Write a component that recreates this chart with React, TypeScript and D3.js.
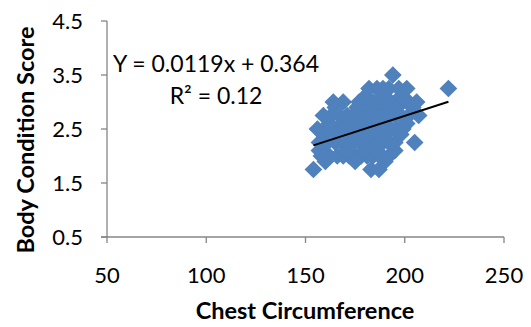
import React from "react";
import * as d3 from "d3";

// Chest circumference (cm) per animal
const chest: number[] = [
  154, 183, 187,
  160, 175, 190,
  158, 162, 166, 169, 172, 175, 178, 181, 184, 188, 192,
  157, 171, 180, 186, 195,
  157, 161, 165, 168, 171, 174, 177, 180, 183, 186, 189, 192, 195, 205,
  159, 166, 173, 182, 190, 198,
  156, 160, 163, 166, 169, 172, 175, 178, 181, 184, 187, 190, 193, 196, 199,
  162, 170, 179, 188, 201,
  159, 163, 167, 171, 174, 177, 180, 183, 186, 189, 192, 195, 198, 202, 207,
  165, 176, 185, 194, 204,
  164, 169, 177, 181, 184, 187, 190, 193, 196, 199, 202, 206,
  180, 189, 198,
  182, 186, 189, 192, 197, 201, 222,
  194,
];

// Body condition score per animal, same order as chest
const bcs: number[] = [
  1.75, 1.75, 1.75,
  1.9, 1.9, 1.9,
  2, 2, 2, 2, 2, 2, 2, 2, 2, 2, 2,
  2.1, 2.1, 2.1, 2.1, 2.1,
  2.25, 2.25, 2.25, 2.25, 2.25, 2.25, 2.25, 2.25, 2.25, 2.25, 2.25, 2.25, 2.25, 2.25,
  2.4, 2.4, 2.4, 2.4, 2.4, 2.4,
  2.5, 2.5, 2.5, 2.5, 2.5, 2.5, 2.5, 2.5, 2.5, 2.5, 2.5, 2.5, 2.5, 2.5, 2.5,
  2.6, 2.6, 2.6, 2.6, 2.6,
  2.75, 2.75, 2.75, 2.75, 2.75, 2.75, 2.75, 2.75, 2.75, 2.75, 2.75, 2.75, 2.75, 2.75, 2.75,
  2.9, 2.9, 2.9, 2.9, 2.9,
  3, 3, 3, 3, 3, 3, 3, 3, 3, 3, 3, 3,
  3.1, 3.1, 3.1,
  3.25, 3.25, 3.25, 3.25, 3.25, 3.25, 3.25,
  3.5,
];

// Linear trend fitted to the data
const slope = 0.0119;
const intercept = 0.364;
const rSquared = "0.12";

const xTicks: number[] = [50, 100, 150, 200, 250];
const yTicks: number[] = [0.5, 1.5, 2.5, 3.5, 4.5];

const W = 531;
const H = 327;
const font = "Lato, 'Open Sans', sans-serif";

export default function App() {
  const x = d3.scaleLinear().domain([50, 250]).range([107, 504]);
  const y = d3.scaleLinear().domain([0.5, 4.5]).range([237, 21]);

  const points = chest.map((c, i) => ({ c, s: bcs[i] }));
  const [xMin, xMax] = d3.extent(chest) as [number, number];
  const trend = d3.line<number>()
    .x((v) => x(v))
    .y((v) => y(slope * v + intercept))([xMin, xMax]);

  const diamond = d3.symbol().type(d3.symbolDiamond2).size(200)();
  const axisColor = "#868686";

  return (
    <svg width={W} height={H} style={{ position: "absolute", left: 0, top: 0, background: "#fff" }}>
      {/* axes */}
      <line x1={x(50)} x2={x(50)} y1={y(4.5)} y2={y(0.5)} stroke={axisColor} strokeWidth={1.3} />
      <line x1={x(50) - 6} x2={x(250)} y1={y(0.5)} y2={y(0.5)} stroke={axisColor} strokeWidth={1.3} />
      {yTicks.map((t) => (
        <g key={"y" + t}>
          <line x1={x(50) - 6} x2={x(50)} y1={y(t)} y2={y(t)} stroke={axisColor} strokeWidth={1.3} />
          <text x={83} y={y(t)} dy="0.36em" textAnchor="end" fontFamily={font} fontSize={22} fill="#000">
            {t.toFixed(1)}
          </text>
        </g>
      ))}
      {xTicks.map((t) => (
        <g key={"x" + t}>
          <line x1={x(t)} x2={x(t)} y1={y(0.5)} y2={y(0.5) + 6} stroke={axisColor} strokeWidth={1.3} />
          <text x={x(t)} y={283} textAnchor="middle" fontFamily={font} fontSize={22} fill="#000">
            {t}
          </text>
        </g>
      ))}

      {/* points */}
      {points.map((p, i) => (
        <path key={i} d={diamond as string} transform={`translate(${x(p.c)},${y(p.s)})`} fill="#4F81BD" />
      ))}

      {/* trend line */}
      <path d={trend as string} stroke="#000" strokeWidth={2} fill="none" />

      {/* equation */}
      <text x={216} y={72} textAnchor="middle" fontFamily={font} fontSize={23} fill="#000">
        {`Y = ${slope}x + ${intercept}`}
      </text>
      <text x={216} y={104} textAnchor="middle" fontFamily={font} fontSize={23} fill="#000">
        R² = {rSquared}
      </text>

      {/* axis titles */}
      <text x={305} y={319} textAnchor="middle" fontFamily={font} fontSize={23.5} fontWeight="bold" fill="#000">
        Chest Circumference
      </text>
      <text transform="translate(34,140) rotate(-90)" textAnchor="middle" fontFamily={font} fontSize={23.5} fontWeight="bold" fill="#000">
        Body Condition Score
      </text>
    </svg>
  );
}
